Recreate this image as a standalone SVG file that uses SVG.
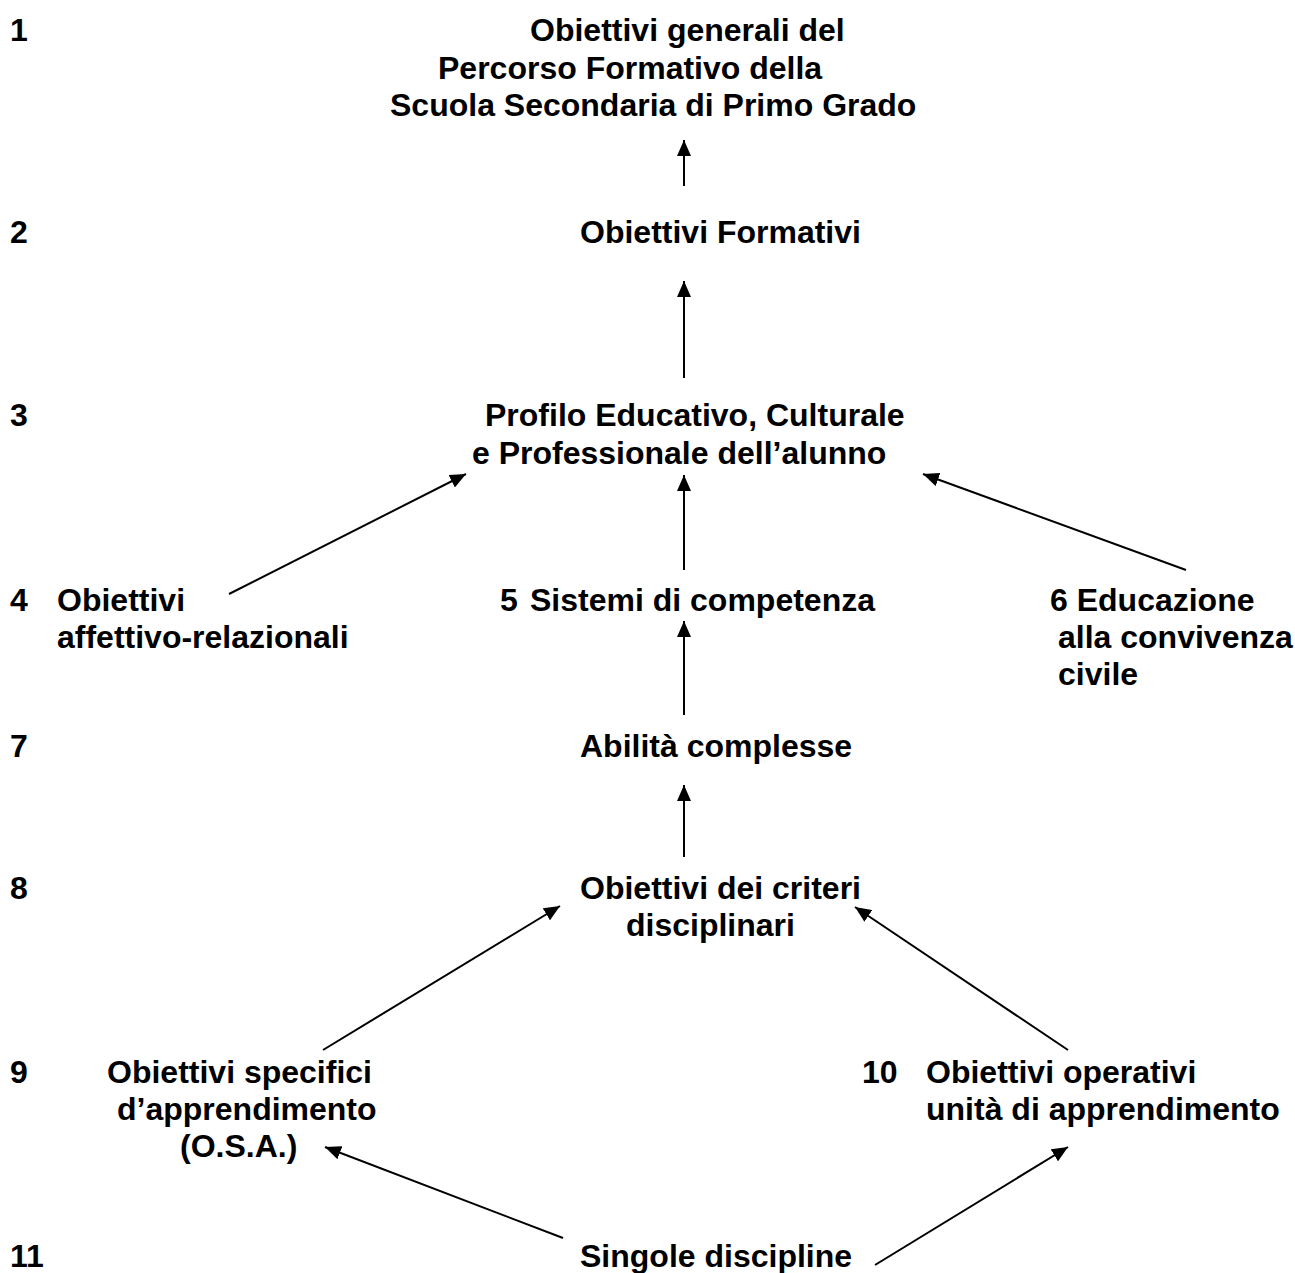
<svg xmlns="http://www.w3.org/2000/svg" width="1295" height="1273" viewBox="0 0 1295 1273">
<defs>
<style>
text{font-family:"Liberation Sans",Arial,sans-serif;font-weight:bold;font-size:32px;fill:#000}
.c{stroke:#000;stroke-width:2;fill:none;marker-end:url(#ah)}
</style>
<marker id="ah" markerUnits="userSpaceOnUse" markerWidth="16" markerHeight="14" refX="16" refY="7" orient="auto">
<path d="M0,0 L16,7 L0,14 Z" fill="#000"/>
</marker>
</defs>
<rect width="1295" height="1273" fill="#fff"/>
<g id="numbers">
<text x="10" y="41">1</text>
<text x="10" y="243">2</text>
<text x="10" y="426">3</text>
<text x="10" y="611">4</text>
<text x="10" y="757">7</text>
<text x="10" y="899">8</text>
<text x="10" y="1083">9</text>
<text x="10" y="1267">11</text>
</g>
<g id="n1"><text x="530" y="41">Obiettivi generali del</text><text x="438" y="79">Percorso Formativo della</text><text x="390" y="116">Scuola Secondaria di Primo Grado</text></g>
<g id="n2"><text x="580" y="243">Obiettivi Formativi</text></g>
<g id="n3"><text x="485" y="426">Profilo Educativo, Culturale</text><text x="472" y="464">e Professionale dell’alunno</text></g>
<g id="n4"><text x="57" y="611">Obiettivi</text><text x="57" y="648">affettivo-relazionali</text></g>
<g id="n5"><text x="500" y="611">5</text><text x="530" y="611">Sistemi di competenza</text></g>
<g id="n6"><text x="1050" y="611">6 Educazione</text><text x="1058" y="648">alla convivenza</text><text x="1058" y="685">civile</text></g>
<g id="n7"><text x="580" y="757">Abilità complesse</text></g>
<g id="n8"><text x="580" y="899">Obiettivi dei criteri</text><text x="626" y="936">disciplinari</text></g>
<g id="n9"><text x="107" y="1083">Obiettivi specifici</text><text x="117" y="1120">d’apprendimento</text><text x="180" y="1157">(O.S.A.)</text></g>
<g id="n10"><text x="862" y="1083">10</text><text x="926" y="1083">Obiettivi operativi</text><text x="926" y="1120">unità di apprendimento</text></g>
<g id="n11"><text x="580" y="1267">Singole discipline</text></g>
<g id="connectors">
<line class="c" x1="684" y1="186" x2="684" y2="140"/>
<line class="c" x1="684" y1="378" x2="684" y2="281"/>
<line class="c" x1="229" y1="594" x2="466" y2="474"/>
<line class="c" x1="684" y1="570" x2="684" y2="475"/>
<line class="c" x1="1186" y1="570" x2="923" y2="474"/>
<line class="c" x1="684" y1="715" x2="684" y2="621"/>
<line class="c" x1="684" y1="857" x2="684" y2="785"/>
<line class="c" x1="323" y1="1050" x2="560" y2="906"/>
<line class="c" x1="1068" y1="1050" x2="855" y2="907"/>
<line class="c" x1="563" y1="1238" x2="325" y2="1147"/>
<line class="c" x1="875" y1="1265" x2="1068" y2="1147"/>
</g>
</svg>
